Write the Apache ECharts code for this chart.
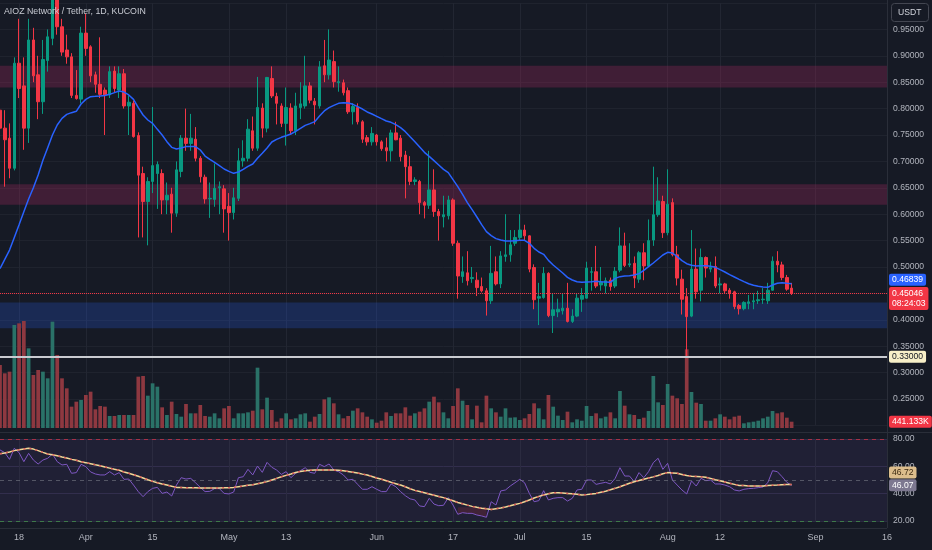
<!DOCTYPE html>
<html><head><meta charset="utf-8">
<script src="https://cdn.jsdelivr.net/npm/echarts@6/dist/echarts.min.js"></script>
<style>html,body{margin:0;padding:0;background:#161a25;}#c{width:932px;height:550px;}</style>
</head><body><div id="c"></div><script>
// ---- data (first candle = axis start) ----
const axisStart = '2024-03-14';
const axisEnd = '2024-09-16';
const tickDates = ['2024-03-18','2024-04-01','2024-04-15','2024-05-01','2024-05-13','2024-06-01','2024-06-17','2024-07-01','2024-07-15','2024-08-01','2024-08-12','2024-09-01','2024-09-16'];
const tickTexts = ['18','Apr','15','May','13','Jun','17','Jul','15','Aug','12','Sep','16'];

const opens = [0.797,
0.763,0.744,0.687,0.886,0.843,0.763,0.930,0.864,0.813,0.891,
0.933,1.010,0.955,0.911,0.898,0.825,0.818,0.943,0.917,0.864,
0.846,0.835,0.826,0.871,0.835,0.866,0.805,0.810,0.749,0.677,
0.624,0.662,0.677,0.677,0.627,0.638,0.602,0.681,0.744,0.734,
0.742,0.706,
0.670,0.629,0.628,0.650,0.648,0.615,0.603,0.630,0.701,0.706,
0.758,0.725,0.801,0.763,0.857,0.823,0.805,0.772,0.801,0.758,
0.802,0.805,0.843,0.814,0.805,0.881,0.864,0.889,0.849,0.849,
0.834,0.794,0.802,0.775,0.745,0.737,0.750,0.737,0.726,0.720,
0.754,0.744,
0.712,0.690,0.662,0.662,0.622,0.617,0.646,0.605,0.595,0.597,
0.627,0.545,0.482,0.489,0.478,0.475,0.463,0.455,0.436,0.491,
0.468,0.520,0.523,0.545,0.556,0.570,0.559,0.499,0.441,0.442,
0.488,0.408,0.415,0.417,0.422,0.397,0.407,0.439,0.441,0.490,
0.491,0.466,0.464,0.475,
0.464,0.494,0.540,0.504,0.507,0.477,0.527,0.502,0.551,0.599,
0.624,0.565,0.622,0.523,0.477,0.444,0.407,0.496,0.456,0.518,
0.496,0.501,0.466,0.468,0.456,0.453,0.427,0.421,0.431,0.434,
0.436,0.438,0.436,0.456,0.511,0.504,0.480,0.460];

const highs = [0.810,
0.797,0.772,0.897,0.970,0.897,0.970,0.953,0.900,0.930,0.950,
1.050,1.040,0.970,0.940,0.905,0.873,0.955,0.980,0.920,0.870,
0.935,0.840,0.880,0.880,0.880,0.875,0.825,0.815,0.755,0.690,
0.670,0.803,0.700,0.685,0.660,0.650,0.700,0.750,0.800,0.790,
0.765,0.710,
0.675,0.660,0.696,0.662,0.655,0.640,0.650,0.725,0.740,0.780,
0.785,0.860,0.810,0.860,0.880,0.830,0.810,0.840,0.810,0.830,
0.850,0.900,0.850,0.820,0.890,0.930,0.950,0.910,0.880,0.855,
0.840,0.810,0.810,0.778,0.750,0.765,0.752,0.740,0.745,0.760,
0.775,0.750,
0.720,0.710,0.670,0.665,0.625,0.720,0.685,0.610,0.635,0.635,
0.630,0.550,0.520,0.530,0.500,0.490,0.480,0.460,0.540,0.520,
0.530,0.600,0.570,0.570,0.600,0.580,0.560,0.505,0.470,0.500,
0.490,0.450,0.440,0.450,0.470,0.420,0.450,0.460,0.510,0.500,
0.540,0.500,0.480,0.480,
0.500,0.575,0.565,0.545,0.520,0.530,0.545,0.590,0.690,0.670,
0.635,0.685,0.630,0.540,0.495,0.460,0.570,0.535,0.535,0.520,
0.510,0.520,0.480,0.470,0.460,0.455,0.430,0.435,0.447,0.450,
0.455,0.460,0.470,0.520,0.530,0.510,0.485,0.470];

const lows = [0.660,
0.652,0.668,0.683,0.820,0.722,0.735,0.850,0.780,0.790,0.870,
0.920,0.940,0.900,0.885,0.820,0.817,0.810,0.900,0.850,0.830,
0.820,0.750,0.820,0.830,0.820,0.800,0.750,0.745,0.556,0.556,
0.541,0.640,0.610,0.600,0.600,0.565,0.595,0.670,0.720,0.720,
0.700,0.660,
0.620,0.593,0.614,0.600,0.565,0.550,0.590,0.625,0.690,0.700,
0.720,0.720,0.745,0.755,0.820,0.770,0.765,0.730,0.750,0.750,
0.780,0.800,0.810,0.770,0.800,0.850,0.855,0.840,0.832,0.825,
0.790,0.770,0.770,0.735,0.730,0.730,0.730,0.720,0.700,0.700,
0.740,0.700,
0.630,0.655,0.655,0.600,0.592,0.610,0.595,0.550,0.575,0.590,
0.540,0.440,0.470,0.465,0.470,0.445,0.452,0.408,0.430,0.465,
0.460,0.510,0.510,0.540,0.550,0.550,0.490,0.420,0.390,0.440,
0.405,0.375,0.405,0.410,0.395,0.394,0.405,0.415,0.440,0.455,
0.460,0.455,0.450,0.455,
0.460,0.490,0.500,0.500,0.460,0.470,0.475,0.500,0.540,0.595,
0.555,0.560,0.520,0.465,0.410,0.330,0.405,0.440,0.435,0.480,
0.490,0.460,0.450,0.450,0.440,0.420,0.410,0.418,0.420,0.420,
0.430,0.430,0.430,0.455,0.490,0.475,0.455,0.447];

const closes = [0.763,
0.741,0.687,0.886,0.838,0.763,0.930,0.862,0.813,0.893,0.936,
1.020,0.955,0.907,0.898,0.825,0.819,0.943,0.914,0.862,0.846,
0.827,0.826,0.870,0.838,0.866,0.805,0.812,0.747,0.674,0.624,
0.662,0.692,0.694,0.627,0.636,0.602,0.684,0.744,0.734,0.744,
0.706,0.671,
0.629,0.630,0.649,0.652,0.610,0.603,0.631,0.701,0.706,0.761,
0.725,0.802,0.763,0.859,0.824,0.810,0.772,0.802,0.758,0.805,
0.809,0.843,0.816,0.807,0.879,0.864,0.892,0.851,0.851,0.830,
0.794,0.804,0.775,0.742,0.737,0.753,0.737,0.724,0.720,0.754,
0.741,0.709,
0.690,0.662,0.665,0.622,0.617,0.646,0.605,0.597,0.599,0.627,
0.545,0.483,0.491,0.474,0.480,0.461,0.455,0.436,0.488,0.468,
0.521,0.523,0.542,0.556,0.570,0.559,0.496,0.438,0.444,0.488,
0.408,0.419,0.420,0.422,0.397,0.407,0.441,0.446,0.498,0.491,
0.464,0.472,0.474,0.463,
0.492,0.540,0.503,0.506,0.479,0.527,0.502,0.550,0.599,0.625,
0.565,0.619,0.523,0.479,0.439,0.406,0.496,0.453,0.518,0.498,
0.499,0.464,0.468,0.455,0.451,0.425,0.421,0.433,0.434,0.436,
0.438,0.439,0.456,0.511,0.504,0.480,0.458,0.45046];

// volume in thousands (K)
const volumes = [4410,
3827,3943,7210,7327,7490,5577,3710,4060,3943,3477,
7443,5110,3477,2777,1493,1843,1960,2310,2543,1307,
1540,1493,840,840,910,910,910,910,3593,3640,
2263,3127,2893,1447,910,1843,980,793,1680,1027,
1027,1610,
840,793,1027,677,1377,1540,677,1027,1027,1097,
1213,4223,1307,2123,1260,443,677,1027,607,677,
957,1027,443,793,980,2007,2147,1727,957,677,
840,1213,1377,1097,793,607,373,513,1097,840,
1027,1027,
1447,863,1027,1143,1377,1843,2193,1797,1097,677,
1540,2777,1913,1610,607,1563,397,2263,1377,1097,
793,1377,723,747,560,677,980,1727,1377,607,
2310,1493,863,560,1143,397,607,513,1540,840,
1027,677,793,1097,
677,2590,1563,957,910,630,723,1190,3640,1797,
1610,3080,2263,2077,1680,5507,2520,1773,1680,513,
513,677,957,793,607,793,863,327,397,443,
513,677,793,1190,1027,1097,723,441.133];

const sma20 = [0.497,
0.5145,0.532,0.556,0.580,0.6048,0.6288,0.650,0.6742,0.702,0.726,
0.750,0.769,0.7816,0.789,0.7923,0.7948,0.8087,0.8175,0.8226,0.8232,
0.8239,0.825,0.827,0.8302,0.8333,0.8314,0.8258,0.8175,0.8018,0.7879,
0.7784,0.772,0.7607,0.75,0.7374,0.7266,0.7235,0.7254,0.728,0.728,
0.728,0.7216,
0.7102,0.7039,0.6982,0.6919,0.6856,0.6812,0.6774,0.6799,0.685,0.6907,
0.6951,0.7058,0.7153,0.7254,0.7367,0.7418,0.7456,0.7487,0.7519,0.757,
0.7626,0.7683,0.7715,0.7753,0.786,0.7955,0.8018,0.8062,0.81,0.8112,
0.8106,0.8081,0.8037,0.7992,0.7936,0.7898,0.7854,0.7809,0.7765,0.774,
0.7696,0.7639,
0.7563,0.7468,0.7374,0.7273,0.7172,0.7096,0.7014,0.6932,0.685,0.6787,
0.6654,0.6521,0.6376,0.6218,0.6086,0.5947,0.5802,0.5669,0.5593,0.5537,
0.5511,0.5492,0.5492,0.5499,0.5505,0.5505,0.5448,0.5354,0.5284,0.524,
0.5126,0.5038,0.4962,0.4886,0.4804,0.4754,0.4722,0.471,0.4716,0.4722,
0.4729,0.4722,0.4716,0.471,
0.4785,0.4817,0.483,0.4836,0.4848,0.4874,0.4937,0.5006,0.5076,0.5152,
0.5227,0.5278,0.5265,0.5196,0.512,0.5063,0.5032,0.5019,0.5025,0.5025,
0.5013,0.4994,0.4949,0.4905,0.4855,0.4811,0.4766,0.4722,0.4684,0.4653,
0.4634,0.4621,0.4615,0.4659,0.4691,0.4703,0.4691,0.46839];

const rsi = [72,
70,65.1,73.2,70,63.4,69.5,64.6,61.7,64.6,65.9,
69,63.4,61,61.5,54.9,55.4,61.5,59.8,55.9,54.4,
53.7,53.7,56.1,53.7,55.4,50.5,50.7,46.3,41.5,37.8,
41.5,43.9,44.6,40.2,41.2,38.3,46.3,51.7,50.7,51.2,
48,44.6,
41.5,41.7,43.7,43.7,40.2,39.8,41.2,51.7,52.4,57.8,
53.7,60.2,55.6,62.9,59.3,57.3,54.1,56.1,51.7,54.9,
56.8,59,55.6,54.9,61.5,59.8,61.7,57.3,56.1,53.7,
50,50.5,46.8,43.2,43.2,45.1,43.2,41.5,41.5,47.1,
45.1,41.5,
38.5,36.2,35.4,31,30.5,36.6,32.4,31.2,31.5,37.1,
31.7,24.9,26.1,25.6,25.6,24.4,23.7,22.7,34.1,31.7,
42,42.7,45.6,48,50.5,48,40.2,34.1,34.9,42.2,
35.4,36.6,37.1,37.1,34.6,36.6,42.7,43.2,50,50,
46.8,47.6,48.3,47.1,
51.2,59,52.9,52.9,48.8,55.4,51.7,56.1,62.7,65.9,
57.8,62.2,50,46.3,42.7,39.8,49.3,45.6,51.2,49.5,
50,47.1,47.1,46.3,45.1,42.7,42,43.2,43.7,43.9,
44.4,44.9,48,56.8,56.1,52.4,48.3,46.07];

const rsiMa = [69.2,
69.8,70.5,71.5,72.2,72.7,73.2,72.6,71.5,70.2,69,
68.5,67.8,66.8,66.1,65.1,64.4,63.4,62.7,61.9,61.1,
60.4,59.5,58.7,57.8,57.1,55.9,54.9,53.9,52.7,51.5,
50.2,49,48,47.1,46.3,45.4,44.6,44.5,44.4,44.4,
44.3,44.1,
44.1,44.1,44.1,44.1,44.3,44.4,44.6,45.1,45.6,46.1,
46.6,47.3,48,48.8,50,51.2,52.4,53.4,54.4,55.5,
56.3,56.7,57.1,57.3,57.3,57.3,57.3,57.3,57.1,56.7,
56.3,55.7,55.1,54.3,53.7,52.6,51.5,50.5,49.4,48.3,
47.3,46.3,
45.1,43.6,42.4,41.6,40.7,39.8,38.9,38.0,37.1,35.9,
34.8,33.5,32.6,31.6,30.7,30,29.4,28.9,28.5,29,
29.5,30.2,31.1,32.1,32.9,34.1,35.4,36.8,38,39,
39.9,40.7,40.6,40.4,40.2,39.9,39.5,39,39.3,39.8,
40.2,41,41.8,42.8,
43.9,45.1,46.3,47.6,48.7,49.6,50.6,51.5,52.3,53.3,
54.6,55.4,55.2,54.9,54.1,53.3,52.8,52.6,52.3,52,
51.2,50.2,49.4,48.5,47.6,46.8,46,45.9,45.7,45.6,
45.6,45.6,45.9,46.1,46.3,46.6,46.7,46.72];

const redZones = [[0.840, 0.881], [0.618, 0.6566]];
const blueZones = [[0.384, 0.433]];
const hLine = 0.33;
const countdown = '08:24:03';
const oversoldLevel = 30;

// ---- build ----
const cats = [];
for (let t = Date.parse(axisStart + 'T00:00:00Z'); t <= Date.parse(axisEnd + 'T00:00:00Z'); t += 86400000) {
  cats.push(new Date(t).toISOString().slice(0, 10));
}
const tickMap = {};
tickDates.forEach((d, i) => tickMap[d] = tickTexts[i]);
const isTick = (i) => tickMap[cats[i]] !== undefined;

const UP = '#089981', DN = '#f23645';
const candleData = opens.map((o, i) => [o, closes[i], lows[i], highs[i]]);
const volData = volumes.map((v, i) => ({ value: v, itemStyle: { color: closes[i] >= opens[i] ? '#2a7268' : '#8e3840' } }));
const oversold = rsi.map(v => v < oversoldLevel ? v : '-');
const last = closes.length - 1;

const FONT = "'Liberation Sans',Arial,sans-serif";
const AX = '#b2b5be';
const FS = 8.6;
const lbl = (bg, fg, text, extra) => Object.assign({
  show: true, position: 'end', distance: 2, formatter: text, color: fg, backgroundColor: bg,
  padding: [2, 3, 1, 3], fontSize: FS, fontFamily: FONT, borderRadius: 2
}, extra || {});
const hidden = { color: 'transparent', width: 0 };

const chart = echarts.init(document.getElementById('c'));
chart.setOption({
  backgroundColor: '#161a25',
  animation: false,
  textStyle: { fontFamily: FONT },
  grid: [
    { left: 0, right: 45, top: 3, height: 422.4 },
    { left: 0, right: 45, top: 308, height: 120 },
    { left: 0, right: 45, top: 439, height: 82 }
  ],
  xAxis: [0, 1, 2].map(g => ({
    type: 'category', gridIndex: g, data: cats, boundaryGap: false,
    axisLine: { show: false }, axisTick: { show: false },
    axisLabel: g === 2 ? { show: true, interval: isTick, formatter: v => tickMap[v] || '', color: AX, fontSize: 9, margin: 12, fontFamily: FONT } : { show: false },
    splitLine: g === 1 ? { show: false } : { show: true, interval: isTick, lineStyle: { color: '#222632', width: 1 } }
  })),
  yAxis: [
    { gridIndex: 0, position: 'right', min: 0.2, max: 1.0, interval: 0.05,
      axisLine: { show: false }, axisTick: { show: false },
      axisLabel: { color: AX, fontSize: FS, margin: 6, fontFamily: FONT, formatter: v => (v < 0.21 || v > 0.99) ? '' : v.toFixed(5) },
      splitLine: { lineStyle: { color: '#1f232e' } } },
    { gridIndex: 1, min: 0, max: 8400, show: false },
    { gridIndex: 2, position: 'right', min: 20, max: 80, interval: 20,
      axisLine: { show: false }, axisTick: { show: false },
      axisLabel: { color: AX, fontSize: FS, margin: 6, fontFamily: FONT, formatter: v => v.toFixed(2) },
      splitLine: { lineStyle: { color: '#2a2a40' } } }
  ],
  series: [
    { name: 'zones', type: 'line', xAxisIndex: 0, yAxisIndex: 0, data: [], z: 1, silent: true,
      markArea: { silent: true, data:
        redZones.map(z => [{ yAxis: z[0], itemStyle: { color: 'rgba(156,39,90,0.32)' } }, { yAxis: z[1] }])
        .concat(blueZones.map(z => [{ yAxis: z[0], itemStyle: { color: 'rgba(41,98,255,0.22)' } }, { yAxis: z[1] }])) },
      markLine: { silent: true, symbol: 'none', data: [
        { yAxis: hLine, lineStyle: { color: '#c9cbd1', width: 2, type: 'solid' },
          label: lbl('#f7efc8', '#131722', hLine.toFixed(5)) }
      ] } },
    { name: 'AIOZ', type: 'candlestick', xAxisIndex: 0, yAxisIndex: 0, data: candleData, z: 3,
      barWidth: 3, clip: true,
      itemStyle: { color: UP, color0: DN, borderColor: UP, borderColor0: DN, borderWidth: 1 },
      markLine: { silent: true, symbol: 'none', data: [
        { yAxis: closes[last], lineStyle: { color: DN, width: 1, type: 'dotted' },
          label: lbl(DN, '#ffffff', closes[last].toFixed(5) + '\n' + countdown, { lineHeight: 10, offset: [0, 5] }) }
      ] } },
    { name: 'SMA', type: 'line', xAxisIndex: 0, yAxisIndex: 0, data: sma20, z: 4, showSymbol: false,
      lineStyle: { color: '#2962ff', width: 1.5 },
      markLine: { silent: true, symbol: 'none', data: [
        { yAxis: sma20[last], lineStyle: hidden, label: lbl('#2962ff', '#ffffff', sma20[last].toFixed(5), { offset: [0, -3] }) }
      ] } },
    { name: 'Volume', type: 'bar', xAxisIndex: 1, yAxisIndex: 1, data: volData, barWidth: 3.7, z: 2,
      markLine: { silent: true, symbol: 'none', data: [
        { yAxis: volumes[last], lineStyle: hidden, label: lbl(DN, '#ffffff', volumes[last].toFixed(3) + 'K') }
      ] } },
    { name: 'Oversold', type: 'line', xAxisIndex: 2, yAxisIndex: 2, data: oversold, showSymbol: false, z: 3,
      lineStyle: { width: 0 }, areaStyle: { origin: oversoldLevel, color: 'rgba(242,54,69,0.22)' } },
    { name: 'RSI', type: 'line', xAxisIndex: 2, yAxisIndex: 2, data: rsi, showSymbol: false, z: 4,
      lineStyle: { color: '#7e57c2', width: 1 },
      markArea: { silent: true, data: [[{ yAxis: 20, itemStyle: { color: 'rgba(126,87,194,0.1)' } }, { yAxis: 80 }]] },
      markLine: { silent: true, symbol: 'none', data: [
        { yAxis: 80, lineStyle: { color: 'rgba(242,54,69,0.6)', type: [4, 4], width: 1 }, label: { show: false } },
        { yAxis: 50, lineStyle: { color: 'rgba(120,123,134,0.6)', type: [4, 4], width: 1 }, label: { show: false } },
        { yAxis: 20, lineStyle: { color: 'rgba(76,175,80,0.6)', type: [4, 4], width: 1 }, label: { show: false } },
        { yAxis: rsi[last], lineStyle: hidden, label: lbl('#7d7890', '#ffffff', rsi[last].toFixed(2)) }
      ] } },
    { name: 'RSI MA', type: 'line', xAxisIndex: 2, yAxisIndex: 2, data: rsiMa, showSymbol: false, z: 5,
      lineStyle: { color: '#efd996', width: 1.5 },
      markLine: { silent: true, symbol: 'none', data: [
        { yAxis: rsiMa[last], lineStyle: hidden, label: lbl('#dcbd8c', '#3a2810', rsiMa[last].toFixed(2), { offset: [0, -12] }) }
      ] } },
    { name: 'RSI MA dash', type: 'line', xAxisIndex: 2, yAxisIndex: 2, data: rsiMa, showSymbol: false, z: 6,
      lineStyle: { color: 'rgba(214,70,80,0.85)', width: 1.5, type: [2, 4] } }
  ],
  graphic: [
    { type: 'line', shape: { x1: 887.5, y1: 0, x2: 887.5, y2: 528 }, style: { stroke: '#2a2e39', lineWidth: 1 }, z: 10 },
    { type: 'line', shape: { x1: 0, y1: 432.5, x2: 932, y2: 432.5 }, style: { stroke: '#2a2e39', lineWidth: 1 }, z: 10 },
    { type: 'line', shape: { x1: 0, y1: 528.5, x2: 887, y2: 528.5 }, style: { stroke: '#2a2e39', lineWidth: 1 }, z: 10 },
    { type: 'text', left: 4, top: 7, z: 20, style: { text: 'AIOZ Network / Tether, 1D, KUCOIN', fill: '#c8cbd3', fontSize: 8.8, fontFamily: FONT } },
    { type: 'rect', shape: { x: 891.5, y: 3.5, width: 37, height: 18, r: 3 }, style: { fill: '#161a25', stroke: '#434651', lineWidth: 1 }, z: 20 },
    { type: 'text', left: 898, top: 8, z: 21, style: { text: 'USDT', fill: '#d1d4dc', fontSize: 8.6, fontFamily: FONT } }
  ]
});
</script></body></html>
